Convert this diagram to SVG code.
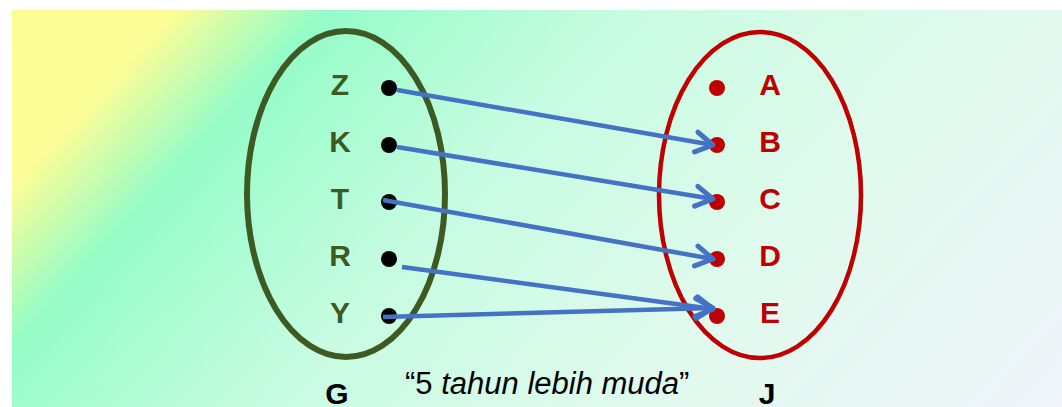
<svg xmlns="http://www.w3.org/2000/svg" width="1062" height="407" viewBox="0 0 1062 407">
  <defs>
    <linearGradient id="bg" gradientUnits="userSpaceOnUse" x1="12" y1="10" x2="777" y2="716">
      <stop offset="0" stop-color="#FDFD96"/>
      <stop offset="0.115" stop-color="#FCFD96"/>
      <stop offset="0.22" stop-color="#95FCC8"/>
      <stop offset="0.43" stop-color="#C6FCE1"/>
      <stop offset="0.67" stop-color="#DEFAEC"/>
      <stop offset="1" stop-color="#F0F4FA"/>
    </linearGradient>
    <marker id="arrow" markerUnits="userSpaceOnUse" viewBox="-22 -14 26 28" markerWidth="26" markerHeight="28" refX="0" refY="0" orient="auto">
      <path d="M -17 -10 L 0 0 L -17 10" fill="none" stroke="#4472C4" stroke-width="5" stroke-linecap="round" stroke-linejoin="round"/>
    </marker>
    <style>
      .setG { fill: none; stroke: #3D5A23; stroke-width: 6; }
      .setJ { fill: none; stroke: #C00000; stroke-width: 4.5; }
      .lblG { font-family: "Liberation Sans", Arial, sans-serif; font-weight: bold; font-size: 30px; fill: #3D5A23; text-anchor: middle; }
      .lblJ { font-family: "Liberation Sans", Arial, sans-serif; font-weight: bold; font-size: 30px; fill: #C00000; text-anchor: middle; }
      .name { font-family: "Liberation Sans", Arial, sans-serif; font-weight: bold; font-size: 30px; fill: #000; text-anchor: middle; }
      .rel { font-family: "Liberation Sans", Arial, sans-serif; font-size: 31px; fill: #000; }
      .dotG { fill: #000; }
      .dotJ { fill: #C00000; }
      .link { fill: none; stroke: #4472C4; stroke-width: 4.5; marker-end: url(#arrow); }
    </style>
  </defs>

  <!-- background panel -->
  <rect x="12" y="10" width="1050" height="397" fill="url(#bg)"/>

  <!-- set G -->
  <g id="set-G">
    <ellipse class="setG" cx="346" cy="194" rx="99" ry="163"/>
    <text class="name" x="337" y="404">G</text>
  </g>
  <g id="node-Z"><text class="lblG" x="340" y="95">Z</text><circle class="dotG" cx="389" cy="88" r="8"/></g>
  <g id="node-K"><text class="lblG" x="340" y="152">K</text><circle class="dotG" cx="389" cy="145" r="8"/></g>
  <g id="node-T"><text class="lblG" x="340" y="209">T</text><circle class="dotG" cx="389" cy="202" r="8"/></g>
  <g id="node-R"><text class="lblG" x="340" y="266">R</text><circle class="dotG" cx="389" cy="259" r="8"/></g>
  <g id="node-Y"><text class="lblG" x="340" y="323">Y</text><circle class="dotG" cx="389" cy="316" r="8"/></g>

  <!-- set J -->
  <g id="set-J">
    <ellipse class="setJ" cx="760" cy="195" rx="101" ry="163"/>
    <text class="name" x="767" y="404">J</text>
  </g>
  <g id="node-A"><circle class="dotJ" cx="717" cy="88" r="8"/><text class="lblJ" x="770" y="95">A</text></g>
  <g id="node-B"><circle class="dotJ" cx="717" cy="145" r="8"/><text class="lblJ" x="770" y="152">B</text></g>
  <g id="node-C"><circle class="dotJ" cx="717" cy="202" r="8"/><text class="lblJ" x="770" y="209">C</text></g>
  <g id="node-D"><circle class="dotJ" cx="717" cy="259" r="8"/><text class="lblJ" x="770" y="266">D</text></g>
  <g id="node-E"><circle class="dotJ" cx="717" cy="316" r="8"/><text class="lblJ" x="770" y="323">E</text></g>

  <!-- relation arrows -->
  <g id="connectors">
    <line class="link" x1="397" y1="90" x2="713" y2="145"/>
    <line class="link" x1="397" y1="147" x2="713" y2="199"/>
    <line class="link" x1="383" y1="200" x2="713" y2="259"/>
    <line class="link" x1="402" y1="267" x2="713" y2="309"/>
    <line class="link" x1="383" y1="317" x2="713" y2="308"/>
  </g>

  <!-- relation name -->
  <text class="rel" x="405" y="394">“5 <tspan font-style="italic">tahun lebih muda</tspan>”</text>
</svg>
